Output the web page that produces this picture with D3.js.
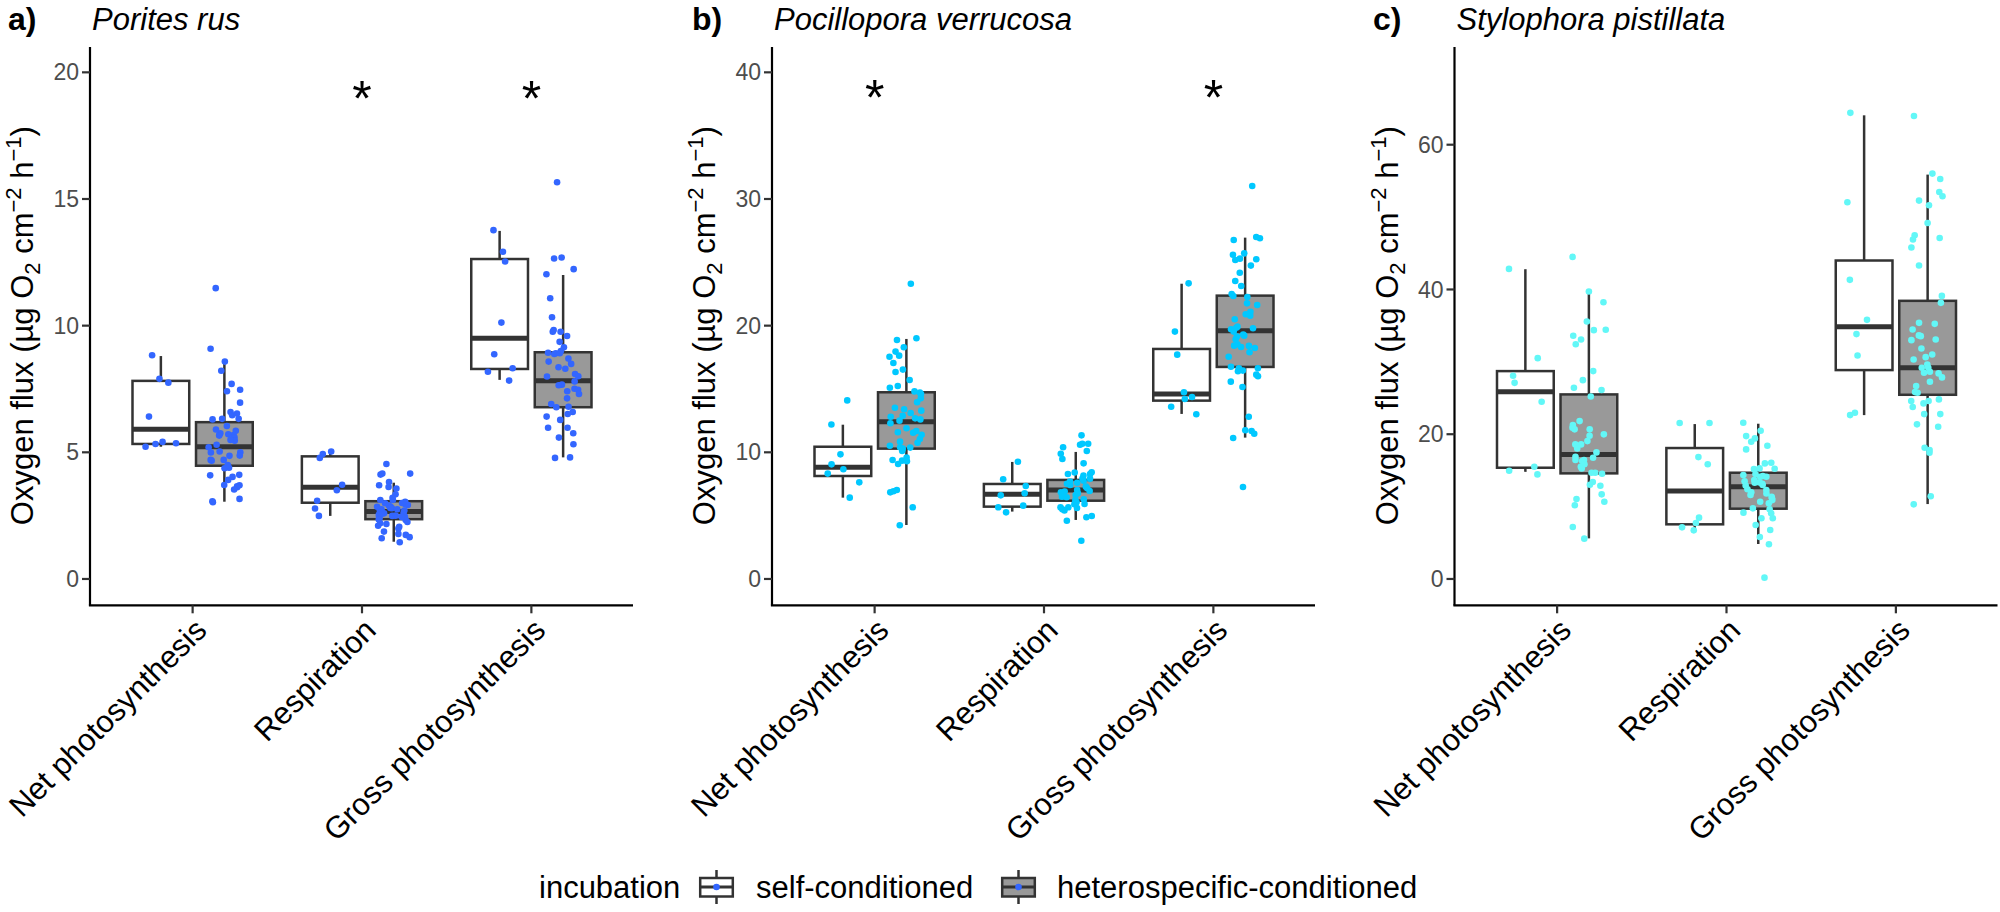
<!DOCTYPE html>
<html><head><meta charset="utf-8">
<script src="https://cdn.jsdelivr.net/npm/d3@7"></script>
<style>
body{margin:0;background:#fff}
svg text{font-family:"Liberation Sans",Arial,sans-serif}
</style>
</head><body>
<svg id="chart" width="2000" height="912"></svg>
<script>
// ---------------- DATA ----------------
const categories = ["Net photosynthesis", "Respiration", "Gross photosynthesis"];
const incubation = ["self-conditioned", "heterospecific-conditioned"];
const species = ["Porites rus", "Pocillopora verrucosa", "Stylophora pistillata"];
const tags = ["a)", "b)", "c)"];

const yTicksA = [0, 5, 10, 15, 20];
const yTicksB = [0, 10, 20, 30, 40];
const yTicksC = [0, 20, 40, 60];
const yDomainA = [-1, 21];
const yDomainB = [-2, 42];
const yDomainC = [-3.5, 73.5];

// significance marks: [category, y value]
const starsA = [["Respiration", 19.3], ["Gross photosynthesis", 19.3]];
const starsB = [["Net photosynthesis", 38.7], ["Gross photosynthesis", 38.7]];
const starsC = [];

// box stats [lower whisker, Q1, median, Q3, upper whisker]
// order: NP self, NP het, R self, R het, GP self, GP het
const boxA = [
  [5.22, 5.33, 5.91, 7.82, 8.8], [3.05, 4.47, 5.22, 6.19, 8.58],
  [2.49, 3.01, 3.62, 4.84, 5.03], [1.47, 2.36, 2.66, 3.07, 3.8],
  [7.86, 8.29, 9.5, 12.63, 13.74], [4.8, 6.78, 7.82, 8.95, 12.0]
];
const boxB = [
  [6.42, 8.13, 8.82, 10.44, 12.18], [4.26, 10.29, 12.42, 14.74, 18.95],
  [5.32, 5.71, 6.69, 7.5, 9.24], [4.66, 6.18, 7.03, 7.82, 10.03],
  [13.03, 14.08, 14.6, 18.16, 23.31], [11.16, 16.74, 19.6, 22.37, 26.95]
];
const boxC = [
  [14.8, 15.37, 25.86, 28.72, 42.8], [5.61, 14.59, 17.21, 25.5, 39.62],
  [6.77, 7.55, 12.15, 18.09, 21.4], [4.83, 9.71, 12.75, 14.68, 21.45],
  [22.64, 28.86, 34.84, 44.0, 64.06], [10.35, 25.45, 29.18, 38.43, 55.87]
];

// individual measurements
const aNPself = [8.83, 7.9, 7.75, 6.41, 5.22, 5.33, 5.36, 5.41];
const aNPhet = [11.48, 9.09, 8.58, 8.22, 7.7, 7.41, 7.47, 6.96, 6.59, 6.46, 6.53, 6.32, 6.3, 6.32, 6.04, 5.85, 5.68, 5.71, 5.71, 5.75, 5.66, 5.59, 5.46, 5.49, 5.03, 4.99, 5.0, 4.87, 4.86, 4.7, 4.7, 4.67, 4.39, 4.37, 4.11, 4.09, 4.03, 3.91, 3.7, 3.71, 3.66, 3.62, 3.53, 3.16, 3.03, 3.07, 5.2, 5.3, 5.9, 4.5];
const aRself = [4.93, 5.03, 4.78, 3.72, 3.5, 3.09, 2.78, 2.49];
const aRhet = [4.54, 4.16, 4.16, 4.12, 3.83, 3.63, 3.7, 3.57, 3.34, 3.12, 2.99, 2.92, 3.05, 3.12, 2.85, 2.79, 2.72, 2.75, 2.59, 2.53, 2.49, 2.4, 2.46, 2.33, 2.2, 2.17, 2.25, 2.06, 1.99, 1.87, 1.74, 1.78, 1.65, 1.61, 1.45, 2.9, 2.8, 2.7, 2.6, 2.65, 2.55, 2.95, 3.0, 2.75, 2.5, 2.35, 2.45, 3.2, 2.1, 2.85];
const aGPself = [13.77, 12.92, 12.53, 10.12, 8.87, 8.32, 8.18, 7.83];
const aGPhet = [15.66, 12.65, 12.69, 12.23, 12.03, 11.08, 10.33, 9.76, 9.76, 9.83, 9.59, 9.36, 9.15, 8.91, 8.88, 8.93, 8.91, 8.7, 8.58, 8.49, 8.3, 8.36, 8.09, 7.99, 7.8, 7.67, 7.51, 7.65, 7.41, 7.47, 7.13, 6.91, 6.78, 6.59, 6.28, 5.97, 5.97, 6.41, 6.51, 5.75, 5.58, 5.32, 4.8, 4.78, 8.0, 7.3, 9.0, 6.8];

const bNPself = [14.1, 12.2, 9.84, 9.05, 8.66, 8.32, 7.63, 6.42];
const bNPhet = [23.31, 19.0, 18.87, 18.29, 17.95, 17.63, 17.55, 17.05, 16.53, 16.34, 15.71, 15.24, 15.1, 14.81, 14.71, 14.6, 14.26, 13.95, 13.29, 13.52, 13.4, 13.1, 12.81, 12.89, 12.68, 12.6, 12.5, 12.29, 11.9, 11.68, 11.55, 11.58, 11.39, 11.05, 10.84, 10.76, 10.4, 10.37, 10.29, 10.52, 10.1, 9.58, 9.34, 9.29, 9.39, 9.08, 6.84, 7.03, 6.92, 5.66, 4.24];
const bRself = [9.26, 7.87, 7.34, 6.76, 6.6, 5.79, 5.66, 5.26];
const bRhet = [11.34, 10.68, 10.68, 10.4, 10.1, 9.89, 9.47, 9.13, 8.29, 8.29, 8.42, 8.16, 7.92, 7.92, 7.76, 7.6, 7.52, 7.42, 7.29, 7.16, 7.03, 6.95, 6.84, 6.76, 6.63, 6.5, 6.45, 6.29, 6.24, 6.05, 5.9, 5.92, 5.66, 5.6, 5.66, 5.5, 4.97, 4.87, 4.6, 3.02, 10.6, 8.4, 7.7, 6.9, 6.0, 5.4];
const bGPself = [23.34, 19.53, 17.71, 14.74, 14.37, 14.21, 13.6, 13.0];
const bGPhet = [31.03, 26.9, 26.76, 27.0, 25.71, 25.24, 25.18, 25.29, 25.6, 24.74, 24.18, 23.53, 23.13, 22.5, 22.26, 22.34, 21.76, 21.63, 21.1, 20.9, 20.79, 20.5, 19.71, 19.79, 19.84, 19.92, 19.53, 19.29, 19.21, 19.13, 18.92, 18.53, 18.4, 18.42, 18.24, 18.32, 17.9, 17.55, 16.76, 16.63, 16.63, 16.45, 16.4, 16.13, 16.0, 15.58, 15.16, 12.81, 11.68, 11.74, 11.47, 11.13, 7.26];

const cNPself = [42.84, 30.51, 28.07, 27.1, 24.48, 15.5, 14.95, 14.45];
const cNPhet = [44.5, 39.72, 38.24, 35.57, 34.38, 34.43, 33.6, 33.09, 32.44, 28.72, 27.47, 26.42, 26.1, 25.22, 21.81, 21.26, 20.67, 20.89, 20.67, 19.98, 19.78, 19.05, 18.59, 18.59, 18.04, 17.49, 16.75, 16.89, 16.43, 16.43, 16.29, 15.84, 15.5, 15.28, 14.68, 14.68, 14.54, 13.39, 12.88, 13.02, 11.69, 11.05, 10.67, 10.18, 7.18, 5.57];
const cRself = [21.54, 21.54, 16.84, 15.84, 8.47, 7.73, 7.13, 6.72];
const cRhet = [21.59, 20.48, 19.42, 19.74, 18.96, 18.41, 17.9, 16.06, 15.23, 15.19, 15.97, 15.28, 14.13, 14.13, 14.36, 14.22, 13.3, 13.34, 13.67, 13.16, 12.98, 12.29, 11.97, 11.6, 11.36, 11.14, 10.67, 10.45, 9.76, 9.62, 9.16, 9.07, 8.38, 8.38, 7.46, 6.77, 5.8, 4.79, 0.18, 12.4, 12.9, 13.5, 10.9, 11.8, 14.5];
const cGPself = [64.4, 52.05, 41.33, 35.8, 33.83, 30.88, 22.96, 22.64];
const cGPhet = [63.97, 56.01, 55.27, 53.47, 52.88, 51.64, 52.28, 49.19, 47.12, 47.49, 46.9, 45.8, 43.31, 39.11, 38.15, 35.39, 35.25, 34.47, 33.65, 33.55, 33.09, 33.0, 31.85, 30.65, 31.02, 30.33, 29.64, 29.18, 29.18, 28.63, 28.4, 28.49, 27.85, 27.24, 26.65, 25.82, 25.72, 24.58, 24.58, 24.81, 24.26, 23.75, 22.78, 22.78, 21.03, 21.36, 18.13, 17.44, 17.81, 11.42, 10.31];

// ---------------- LAYOUT / STYLE ----------------
const panels = [
  {left: 91, yDomain: yDomainA, ticks: yTicksA, boxes: boxA, stars: starsA, color: "#3366FF",
   pts: [[aNPself, aNPhet], [aRself, aRhet], [aGPself, aGPhet]]},
  {left: 773, yDomain: yDomainB, ticks: yTicksB, boxes: boxB, stars: starsB, color: "#00C8FF",
   pts: [[bNPself, bNPhet], [bRself, bRhet], [bGPself, bGPhet]]},
  {left: 1455.5, yDomain: yDomainC, ticks: yTicksC, boxes: boxC, stars: starsC, color: "#62F7F7",
   pts: [[cNPself, cNPhet], [cRself, cRhet], [cGPself, cGPhet]]}
];
const plotW = 542, plotTop = 47, plotBottom = 604.3;
const boxStroke = "#333333";
const fills = ["#FFFFFF", "#999999"];

function lcg(seed) {
  let s = seed >>> 0;
  return () => { s = (Math.imul(s, 1664525) + 1013904223) >>> 0; return s / 4294967296; };
}

const svg = d3.select("#chart");

panels.forEach((p, pi) => {
  const g = svg.append("g");
  const x = d3.scalePoint().domain(categories).range([p.left, p.left + plotW]).padding(0.6);
  const step = x.step();
  const y = d3.scaleLinear().domain(p.yDomain).range([plotBottom, plotTop]);
  const dodge = 0.1875 * step, bw = 0.335 * step, jw = 0.1 * step;

  // boxes
  categories.forEach((cat, ci) => {
    [0, 1].forEach(gi => {
      const s = p.boxes[ci * 2 + gi];
      const cx = x(cat) + (gi === 0 ? -dodge : dodge);
      const bg = g.append("g");
      bg.append("line").attr("x1", cx).attr("x2", cx).attr("y1", y(s[3])).attr("y2", y(s[4]))
        .attr("stroke", boxStroke).attr("stroke-width", 2.5);
      bg.append("line").attr("x1", cx).attr("x2", cx).attr("y1", y(s[1])).attr("y2", y(s[0]))
        .attr("stroke", boxStroke).attr("stroke-width", 2.5);
      bg.append("rect").attr("x", cx - bw / 2).attr("width", bw)
        .attr("y", y(s[3])).attr("height", y(s[1]) - y(s[3]))
        .attr("fill", fills[gi]).attr("stroke", boxStroke).attr("stroke-width", 2.5);
      bg.append("line").attr("x1", cx - bw / 2).attr("x2", cx + bw / 2).attr("y1", y(s[2])).attr("y2", y(s[2]))
        .attr("stroke", boxStroke).attr("stroke-width", 5);
    });
  });

  // points (jittered within each dodged group)
  categories.forEach((cat, ci) => {
    [0, 1].forEach(gi => {
      const cx = x(cat) + (gi === 0 ? -dodge : dodge);
      const rnd = lcg(1000 * pi + 100 * ci + 7 * gi + 13);
      g.append("g").selectAll("circle").data(p.pts[ci][gi]).join("circle")
        .attr("cx", () => cx + (rnd() * 2 - 1) * jw)
        .attr("cy", d => y(d))
        .attr("r", 3.3)
        .attr("fill", p.color);
    });
  });

  // stars
  g.selectAll("text.star").data(p.stars).join("text").attr("class", "star")
    .attr("x", d => x(d[0])).attr("y", d => y(d[1]) + 0.52 * 50)
    .attr("text-anchor", "middle").attr("font-size", 50).attr("fill", "#000").text("*");

  // axes
  g.append("line").attr("x1", p.left - 1).attr("x2", p.left - 1).attr("y1", plotTop).attr("y2", plotBottom + 1.1)
    .attr("stroke", "#000").attr("stroke-width", 2.2);
  g.append("line").attr("x1", p.left - 2.1).attr("x2", p.left + plotW).attr("y1", plotBottom + 1).attr("y2", plotBottom + 1)
    .attr("stroke", "#000").attr("stroke-width", 2.2);

  // y ticks
  const yt = g.append("g").selectAll("g").data(p.ticks).join("g");
  yt.append("line").attr("x1", p.left - 9).attr("x2", p.left - 1).attr("y1", d => y(d)).attr("y2", d => y(d))
    .attr("stroke", "#333").attr("stroke-width", 2.2);
  yt.append("text").attr("x", p.left - 12).attr("y", d => y(d)).attr("dy", "0.35em")
    .attr("text-anchor", "end").attr("font-size", 23).attr("fill", "#4D4D4D").text(d => d);

  // x ticks + labels
  const xt = g.append("g").selectAll("g").data(categories).join("g");
  xt.append("line").attr("x1", d => x(d)).attr("x2", d => x(d)).attr("y1", plotBottom + 1).attr("y2", plotBottom + 9)
    .attr("stroke", "#333").attr("stroke-width", 2.2);
  xt.append("text").attr("transform", d => `translate(${x(d)},${plotBottom + 12}) rotate(-45)`)
    .attr("text-anchor", "end").attr("dy", "0.72em").attr("font-size", 31).attr("fill", "#000").text(d => d);

  // y title
  const yc = (plotTop + plotBottom) / 2;
  const t = g.append("text").attr("transform", `translate(${p.left - 58},${yc}) rotate(-90)`)
    .attr("text-anchor", "middle").attr("font-size", 31).attr("fill", "#000");
  t.append("tspan").text("Oxygen flux (µg O");
  t.append("tspan").attr("font-size", 22).attr("dy", 7).text("2");
  t.append("tspan").attr("dy", -7).text(" cm");
  t.append("tspan").attr("font-size", 22).attr("dy", -12).text("\u22122");
  t.append("tspan").attr("dy", 12).text(" h");
  t.append("tspan").attr("font-size", 22).attr("dy", -12).text("\u22121");
  t.append("tspan").attr("dy", 12).text(")");

  // tag and title
  const tagX = [8, 692, 1373][pi];
  g.append("text").attr("x", tagX).attr("y", 30).attr("font-size", 32).attr("font-weight", "bold")
    .attr("fill", "#000").text(tags[pi]);
  g.append("text").attr("x", p.left + 1).attr("y", 30).attr("font-size", 31).attr("font-style", "italic")
    .attr("fill", "#000").text(species[pi]);
});

// legend
const lg = svg.append("g");
const ly = 887;
lg.append("text").attr("x", 539).attr("y", ly).attr("dy", "0.35em").attr("font-size", 31).attr("fill", "#000").text("incubation");
const keyX = [699, 1001], labX = [756, 1057];
incubation.forEach((lab, i) => {
  const k = lg.append("g");
  const cx = keyX[i] + 17.5;
  k.append("line").attr("x1", cx).attr("x2", cx).attr("y1", ly - 17).attr("y2", ly + 17)
    .attr("stroke", boxStroke).attr("stroke-width", 2.5);
  k.append("rect").attr("x", keyX[i] + 1.2).attr("y", ly - 9).attr("width", 32.6).attr("height", 18.5)
    .attr("fill", fills[i]).attr("stroke", boxStroke).attr("stroke-width", 2.5);
  k.append("line").attr("x1", keyX[i] + 1.2).attr("x2", keyX[i] + 33.8).attr("y1", ly).attr("y2", ly)
    .attr("stroke", boxStroke).attr("stroke-width", 3);
  k.append("circle").attr("cx", cx).attr("cy", ly).attr("r", 3.3).attr("fill", "#3366FF");
  lg.append("text").attr("x", labX[i]).attr("y", ly).attr("dy", "0.35em").attr("font-size", 31).attr("fill", "#000").text(lab);
});
</script>
</body></html>
